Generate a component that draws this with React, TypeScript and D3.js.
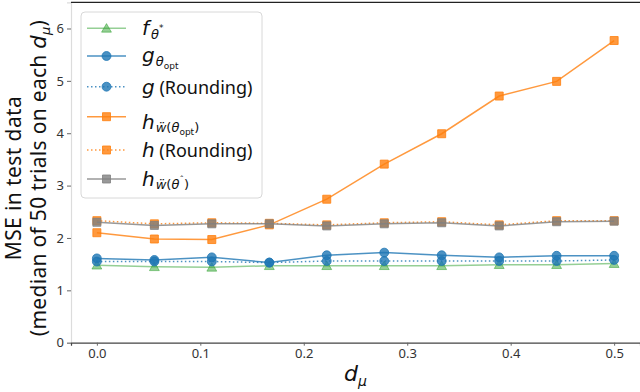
import React, { useEffect, useRef } from 'react';
import * as d3 from 'd3';

// d_mu values on the x axis (10 steps from 0 to 0.5)
const dmu = [0, 0.0556, 0.1111, 0.1667, 0.2222, 0.2778, 0.3333, 0.3889, 0.4444, 0.5];

// median MSE
const fTheta = [1.48, 1.45, 1.44, 1.47, 1.47, 1.47, 1.47, 1.49, 1.49, 1.51];
const gOpt = [1.61, 1.58, 1.63, 1.53, 1.67, 1.72, 1.67, 1.63, 1.66, 1.66];
const gRound = [1.55, 1.55, 1.55, 1.53, 1.56, 1.56, 1.56, 1.56, 1.56, 1.58];
const hOpt = [2.10, 1.98, 1.97, 2.25, 2.74, 3.41, 3.99, 4.71, 4.99, 5.77];
const hRound = [2.33, 2.27, 2.29, 2.28, 2.25, 2.29, 2.31, 2.25, 2.33, 2.33];
const hHat = [2.30, 2.24, 2.27, 2.27, 2.23, 2.27, 2.29, 2.23, 2.31, 2.32];

const yTicks = [0, 1, 2, 3, 4, 5, 6];
const xTicks = [0.0, 0.1, 0.2, 0.3, 0.4, 0.5];

const series = [
    { key: 'f', values: fTheta, color: '#2ca02c', alpha: 0.5, marker: 'triangle', dotted: false },
    { key: 'g', values: gOpt, color: '#1f77b4', alpha: 0.8, marker: 'circle', dotted: false },
    { key: 'gr', values: gRound, color: '#1f77b4', alpha: 0.8, marker: 'circle', dotted: true },
    { key: 'h', values: hOpt, color: '#ff7f0e', alpha: 0.8, marker: 'square', dotted: false },
    { key: 'hr', values: hRound, color: '#ff7f0e', alpha: 0.8, marker: 'square', dotted: true },
    { key: 'hh', values: hHat, color: '#7f7f7f', alpha: 0.8, marker: 'square', dotted: false },
];

const TEXT_FONT = '"Noto Sans", "DejaVu Sans", sans-serif';
const MATH_FONT = '"DejaVu Sans", sans-serif';

const symbolFor = (m: string) => {
    if (m === 'triangle') return d3.symbol().type(d3.symbolTriangle).size(42)();
    if (m === 'circle') return d3.symbol().type(d3.symbolCircle).size(62)();
    return d3.symbol().type(d3.symbolSquare).size(64)();
};

const App = () => {
    const svgRef = useRef<SVGSVGElement>(null);

    useEffect(() => {
        const width = 640;
        const height = 392;
        const left = 71, right = 640, top = 2.3, bottom = 342.7;

        const svg = d3.select(svgRef.current);
        svg.selectAll('*').remove();
        svg.attr('width', width).attr('height', height);

        const x = d3.scaleLinear().domain([-0.025, 0.525]).range([left, right]);
        const y = d3.scaleLinear().domain([0, 6.5]).range([bottom, top]);

        // y axis
        const yAxis = svg.append('g')
            .attr('transform', `translate(${left},0)`)
            .call(d3.axisLeft(y).tickValues(yTicks).tickFormat(d3.format('d')).tickSize(4).tickPadding(3));
        yAxis.select('.domain').attr('stroke', '#dcdcdc').attr('stroke-width', 1.2);
        yAxis.selectAll('.tick line').attr('stroke', '#666');
        yAxis.selectAll('.tick text')
            .attr('fill', '#333')
            .style('font-family', TEXT_FONT)
            .style('font-size', '13px');

        // x axis
        const xAxis = svg.append('g')
            .attr('transform', `translate(0,${bottom})`)
            .call(d3.axisBottom(x).tickValues(xTicks).tickFormat(d3.format('.1f')).tickSize(3).tickPadding(3));
        xAxis.select('.domain').attr('stroke', '#444').attr('stroke-width', 1.2);
        xAxis.selectAll('.tick line').attr('stroke', '#666');
        xAxis.selectAll('.tick text')
            .attr('fill', '#333')
            .style('font-family', TEXT_FONT)
            .style('font-size', '13px');

        // top spine
        svg.append('line')
            .attr('x1', left).attr('x2', right)
            .attr('y1', top).attr('y2', top)
            .attr('stroke', '#222').attr('stroke-width', 1.3);

        // series
        const line = d3.line<number>()
            .x((_, i) => x(dmu[i]))
            .y(d => y(d));

        series.forEach(s => {
            svg.append('path')
                .attr('d', line(s.values))
                .attr('fill', 'none')
                .attr('stroke', s.color)
                .attr('stroke-opacity', s.alpha)
                .attr('stroke-width', 1.5)
                .attr('stroke-dasharray', s.dotted ? '1.5,2.5' : null);
            svg.append('g')
                .selectAll('path')
                .data(s.values)
                .enter().append('path')
                .attr('d', symbolFor(s.marker))
                .attr('transform', (d, i) => `translate(${x(dmu[i])},${y(d) + (s.marker === 'triangle' ? 1 : 0)})`)
                .attr('fill', s.color)
                .attr('fill-opacity', s.alpha)
                .attr('stroke', s.color)
                .attr('stroke-opacity', s.alpha)
                .attr('stroke-width', 1);
        });

        // legend
        const lg = svg.append('g');
        lg.append('rect')
            .attr('x', 81).attr('y', 12)
            .attr('width', 181).attr('height', 186)
            .attr('rx', 4)
            .attr('fill', 'white').attr('fill-opacity', 0.8)
            .attr('stroke', '#d8d8d8').attr('stroke-width', 1);

        const rowsY = [28.3, 56, 86.7, 116.7, 150, 179];
        series.forEach((s, i) => {
            const yy = rowsY[i];
            lg.append('line')
                .attr('x1', 87).attr('x2', 126)
                .attr('y1', yy).attr('y2', yy)
                .attr('stroke', s.color)
                .attr('stroke-opacity', s.alpha)
                .attr('stroke-width', 1.5)
                .attr('stroke-dasharray', s.dotted ? '1.5,2.5' : null);
            lg.append('path')
                .attr('d', symbolFor(s.marker))
                .attr('transform', `translate(106.5,${yy + (s.marker === 'triangle' ? 1 : 0)})`)
                .attr('fill', s.color)
                .attr('fill-opacity', s.alpha)
                .attr('stroke', s.color)
                .attr('stroke-opacity', s.alpha);
        });

        const tx = 142;
        const mathText = (baseline: number) => lg.append('text')
            .attr('x', tx).attr('y', baseline)
            .attr('fill', '#111')
            .style('font-family', MATH_FONT);

        // f_{theta^*}
        let t = mathText(35);
        t.append('tspan').style('font-style', 'italic').style('font-size', '20px').text('f');
        t.append('tspan').attr('dx', 2).attr('dy', 4).style('font-style', 'italic').style('font-size', '13px').text('θ');
        t.append('tspan').attr('dy', -8).style('font-size', '9px').text('*');

        // g_{theta_opt}
        t = mathText(61.5);
        t.append('tspan').style('font-style', 'italic').style('font-size', '20px').text('g');
        t.append('tspan').attr('dx', 1).attr('dy', 4).style('font-style', 'italic').style('font-size', '13px').text('θ');
        t.append('tspan').attr('dy', 3).style('font-size', '9px').text('opt');

        // g (Rounding)
        t = mathText(93.5);
        t.append('tspan').style('font-style', 'italic').style('font-size', '20px').text('g');
        t.append('tspan').style('font-family', TEXT_FONT).style('font-size', '18px').text(' (Rounding)');

        // h_{w(theta_opt)}
        t = mathText(128.5);
        t.append('tspan').style('font-style', 'italic').style('font-size', '20px').text('h');
        t.append('tspan').attr('dx', 1).attr('dy', 3).style('font-style', 'italic').style('font-size', '13px').text('w\u0308');
        t.append('tspan').style('font-size', '13px').text('(');
        t.append('tspan').style('font-style', 'italic').style('font-size', '13px').text('θ');
        t.append('tspan').attr('dy', 3).style('font-size', '9px').text('opt');
        t.append('tspan').attr('dy', -3).style('font-size', '13px').text(')');

        // h (Rounding)
        t = mathText(156.5);
        t.append('tspan').style('font-style', 'italic').style('font-size', '20px').text('h');
        t.append('tspan').style('font-family', TEXT_FONT).style('font-size', '18px').text(' (Rounding)');

        // h_{w(theta^)}
        t = mathText(186);
        t.append('tspan').style('font-style', 'italic').style('font-size', '20px').text('h');
        t.append('tspan').attr('dx', 1).attr('dy', 3).style('font-style', 'italic').style('font-size', '13px').text('w\u0308');
        t.append('tspan').style('font-size', '13px').text('(');
        t.append('tspan').style('font-style', 'italic').style('font-size', '13px').text('θ');
        t.append('tspan').attr('dy', -6).style('font-size', '9px').text('ˆ');
        t.append('tspan').attr('dy', 6).style('font-size', '13px').text(')');

        // y label (two lines)
        const cy = 178;
        svg.append('text')
            .attr('transform', `translate(21,${cy}) rotate(-90)`)
            .attr('text-anchor', 'middle')
            .attr('fill', '#111')
            .style('font-family', TEXT_FONT)
            .style('font-size', '21px')
            .style('letter-spacing', '0.4px')
            .text('MSE in test data');
        const yl2 = svg.append('text')
            .attr('transform', `translate(46,${cy}) rotate(-90)`)
            .attr('text-anchor', 'middle')
            .attr('fill', '#111')
            .style('font-family', TEXT_FONT)
            .style('font-size', '21px')
            .style('letter-spacing', '0.3px');
        yl2.append('tspan').text('(median of 50 trials on each ');
        yl2.append('tspan').style('font-family', MATH_FONT).style('font-style', 'italic').text('d');
        yl2.append('tspan').attr('dy', 4).style('font-family', MATH_FONT).style('font-style', 'italic').style('font-size', '13px').text('μ');
        yl2.append('tspan').attr('dy', -4).text(')');

        // x label
        const xl = svg.append('text')
            .attr('x', (left + right) / 2)
            .attr('y', 381)
            .attr('text-anchor', 'middle')
            .attr('fill', '#111')
            .style('font-family', MATH_FONT)
            .style('font-style', 'italic')
            .style('font-size', '22px');
        xl.append('tspan').text('d');
        xl.append('tspan').attr('dy', 5).style('font-size', '14px').text('μ');
    }, []);

    return (
        <svg ref={svgRef} style={{ position: 'absolute', left: 0, top: 0 }}></svg>
    );
};

export default App;
